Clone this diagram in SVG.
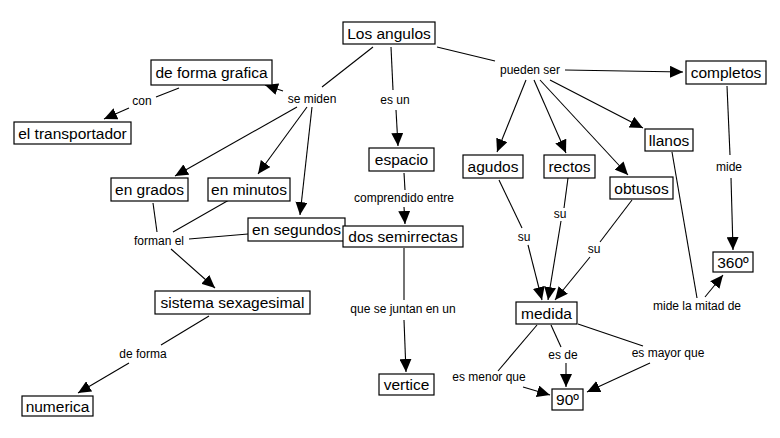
<svg xmlns="http://www.w3.org/2000/svg" width="780" height="438" viewBox="0 0 780 438">
<style>
.box{fill:#fff;stroke:#000;stroke-width:1.2}
.nt{font-family:"Liberation Sans",Arial,sans-serif;font-size:15.5px;fill:#000;text-anchor:middle}
.lt{font-family:"Liberation Sans",Arial,sans-serif;font-size:12px;fill:#000;text-anchor:middle}
.ln{stroke:#000;stroke-width:1.1;fill:none}
.ar{stroke:#000;stroke-width:1.1;fill:none;marker-end:url(#ah)}
</style>
<defs>
<marker id="ah" markerUnits="userSpaceOnUse" markerWidth="14" markerHeight="12" refX="13" refY="6" orient="auto" viewBox="0 0 14 12">
<path d="M0,0 L13,6 L0,12 z" fill="#000"/>
</marker>
</defs>
<rect width="780" height="438" fill="#fff"/>
<g id="connectors">
<line class="ln" x1="373" y1="47" x2="322" y2="87"/>
<line class="ar" x1="283" y1="91" x2="265" y2="85"/>
<line class="ln" x1="179" y1="88" x2="156" y2="97"/>
<line class="ar" x1="129" y1="108" x2="104" y2="119"/>
<line class="ar" x1="297" y1="107" x2="175" y2="176"/>
<line class="ar" x1="307" y1="107" x2="258" y2="174"/>
<line class="ar" x1="312" y1="107" x2="300" y2="215"/>
<line class="ln" x1="391" y1="47" x2="393" y2="90"/>
<line class="ar" x1="396" y1="110" x2="398" y2="146"/>
<line class="ln" x1="437" y1="47" x2="495" y2="61"/>
<line class="ar" x1="565" y1="70" x2="683" y2="72"/>
<line class="ar" x1="526" y1="80" x2="497" y2="152"/>
<line class="ar" x1="534" y1="80" x2="566" y2="153"/>
<line class="ar" x1="540" y1="80" x2="628" y2="175"/>
<line class="ar" x1="550" y1="80" x2="643" y2="128"/>
<line class="ln" x1="404" y1="173" x2="405" y2="190"/>
<line class="ar" x1="404" y1="207" x2="405" y2="224"/>
<line class="ln" x1="404" y1="248" x2="404" y2="300"/>
<line class="ar" x1="404" y1="320" x2="406" y2="372"/>
<line class="ln" x1="153" y1="203" x2="157" y2="232"/>
<line class="ln" x1="229" y1="200" x2="173" y2="232"/>
<line class="ln" x1="248" y1="234" x2="189" y2="239"/>
<line class="ar" x1="171" y1="249" x2="215" y2="288"/>
<line class="ln" x1="209" y1="316" x2="161" y2="345"/>
<line class="ar" x1="129" y1="363" x2="78" y2="393"/>
<line class="ln" x1="727" y1="86" x2="730" y2="155"/>
<line class="ar" x1="731" y1="178" x2="733" y2="250"/>
<line class="ln" x1="672" y1="152" x2="697" y2="298"/>
<line class="ar" x1="705" y1="297" x2="723" y2="275"/>
<line class="ln" x1="499" y1="180" x2="522" y2="228"/>
<line class="ar" x1="528" y1="245" x2="542" y2="300"/>
<line class="ln" x1="568" y1="178" x2="564" y2="208"/>
<line class="ar" x1="561" y1="221" x2="548" y2="300"/>
<line class="ln" x1="632" y1="200" x2="600" y2="242"/>
<line class="ar" x1="590" y1="257" x2="555" y2="300"/>
<line class="ln" x1="537" y1="325" x2="498" y2="371"/>
<line class="ar" x1="523" y1="387" x2="550" y2="395"/>
<line class="ln" x1="551" y1="325" x2="561" y2="347"/>
<line class="ar" x1="566" y1="363" x2="566" y2="387"/>
<line class="ln" x1="578" y1="324" x2="643" y2="346"/>
<line class="ar" x1="650" y1="363" x2="587" y2="392"/>
</g>
<g id="labels">
<g id="l-semiden"><text class="lt" x="312" y="103">se miden</text></g>
<g id="l-con"><text class="lt" x="142" y="105">con</text></g>
<g id="l-esun"><text class="lt" x="395" y="104">es un</text></g>
<g id="l-puedenser"><text class="lt" x="530" y="74">pueden ser</text></g>
<g id="l-comprendido"><text class="lt" x="404" y="202">comprendido entre</text></g>
<g id="l-formanel"><text class="lt" x="159" y="245">forman el</text></g>
<g id="l-deforma"><text class="lt" x="143" y="358">de forma</text></g>
<g id="l-juntan"><text class="lt" x="403" y="313">que se juntan en un</text></g>
<g id="l-mide"><text class="lt" x="729" y="171">mide</text></g>
<g id="l-su1"><text class="lt" x="524" y="241">su</text></g>
<g id="l-su2"><text class="lt" x="560" y="218">su</text></g>
<g id="l-su3"><text class="lt" x="594" y="253">su</text></g>
<g id="l-mitad"><text class="lt" x="697" y="310">mide la mitad de</text></g>
<g id="l-menor"><text class="lt" x="489" y="381">es menor que</text></g>
<g id="l-esde"><text class="lt" x="563" y="359">es de</text></g>
<g id="l-mayor"><text class="lt" x="668" y="357">es mayor que</text></g>
</g>
<g id="n-losangulos"><rect class="box" x="343" y="22" width="92" height="22"/><text class="nt" x="389" y="38.5">Los angulos</text></g>
<g id="n-grafica"><rect class="box" x="151" y="60" width="121" height="25"/><text class="nt" x="211.5" y="78">de forma grafica</text></g>
<g id="n-transportador"><rect class="box" x="14" y="122" width="117" height="22"/><text class="nt" x="72.5" y="138.5">el transportador</text></g>
<g id="n-grados"><rect class="box" x="111" y="178" width="77" height="23"/><text class="nt" x="149.5" y="195">en grados</text></g>
<g id="n-minutos"><rect class="box" x="208" y="178" width="82" height="23"/><text class="nt" x="249" y="195">en minutos</text></g>
<g id="n-segundos"><rect class="box" x="248" y="218" width="97" height="23"/><text class="nt" x="296.5" y="235">en segundos</text></g>
<g id="n-semirrectas"><rect class="box" x="343" y="226" width="120" height="21"/><text class="nt" x="403" y="242">dos semirrectas</text></g>
<g id="n-sexagesimal"><rect class="box" x="155" y="291" width="155" height="23"/><text class="nt" x="232.5" y="308">sistema sexagesimal</text></g>
<g id="n-numerica"><rect class="box" x="22" y="396" width="71" height="20"/><text class="nt" x="57.5" y="411.5">numerica</text></g>
<g id="n-vertice"><rect class="box" x="379" y="374" width="55" height="21"/><text class="nt" x="406.5" y="390">vertice</text></g>
<g id="n-espacio"><rect class="box" x="369" y="148" width="65" height="23"/><text class="nt" x="401.5" y="165">espacio</text></g>
<g id="n-agudos"><rect class="box" x="463" y="155" width="60" height="23"/><text class="nt" x="493" y="172">agudos</text></g>
<g id="n-rectos"><rect class="box" x="544" y="155" width="51" height="23"/><text class="nt" x="569.5" y="172">rectos</text></g>
<g id="n-obtusos"><rect class="box" x="610" y="177" width="63" height="22"/><text class="nt" x="641.5" y="193.5">obtusos</text></g>
<g id="n-llanos"><rect class="box" x="645" y="129" width="48" height="22"/><text class="nt" x="669" y="145.5">llanos</text></g>
<g id="n-completos"><rect class="box" x="686" y="61" width="80" height="23"/><text class="nt" x="726" y="78">completos</text></g>
<g id="n-360"><rect class="box" x="713" y="252" width="40" height="20"/><text class="nt" x="733" y="267.5">360º</text></g>
<g id="n-medida"><rect class="box" x="516" y="302" width="61" height="22"/><text class="nt" x="546.5" y="318.5">medida</text></g>
<g id="n-90"><rect class="box" x="552" y="389" width="31" height="21"/><text class="nt" x="567.5" y="405">90º</text></g>
</svg>
